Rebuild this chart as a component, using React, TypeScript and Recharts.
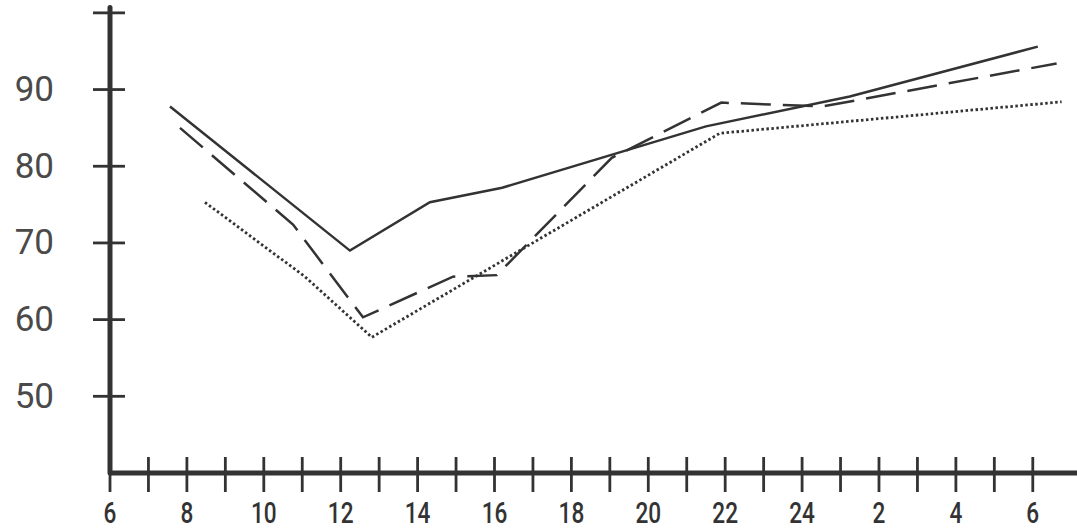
import React from 'react'
import { LineChart, Line, XAxis, YAxis } from 'recharts'

// hours of day (6 = 06:00, 30 = 06:00 next day)
const xTicks = [6, 7, 8, 9, 10, 11, 12, 13, 14, 15, 16, 17, 18, 19, 20, 21, 22, 23, 24, 25, 26, 27, 28, 29, 30]
const xLabels: { [key: number]: string } = {
  6: '6', 8: '8', 10: '10', 12: '12', 14: '14', 16: '16', 18: '18',
  20: '20', 22: '22', 24: '24', 26: '2', 28: '4', 30: '6',
}
const yTicks = [50, 60, 70, 80, 90, 100]
const yLabels: { [key: number]: string } = { 50: '50', 60: '60', 70: '70', 80: '80', 90: '90' }

const solidSeries = [
  { t: 7.56, v: 87.8 },
  { t: 12.24, v: 69.0 },
  { t: 14.32, v: 75.3 },
  { t: 16.2, v: 77.2 },
  { t: 21.5, v: 85.2 },
  { t: 25.24, v: 89.1 },
  { t: 30.13, v: 95.6 },
]

const dashedSeries = [
  { t: 7.82, v: 85.0 },
  { t: 10.76, v: 72.4 },
  { t: 12.58, v: 60.3 },
  { t: 14.92, v: 65.6 },
  { t: 16.06, v: 65.8 },
  { t: 19.05, v: 81.1 },
  { t: 21.9, v: 88.3 },
  { t: 24.54, v: 87.8 },
  { t: 30.62, v: 93.4 },
]

const dottedSeries = [
  { t: 8.47, v: 75.3 },
  { t: 11.07, v: 65.6 },
  { t: 12.81, v: 57.7 },
  { t: 21.86, v: 84.3 },
  { t: 30.75, v: 88.4 },
]

const ink = '#333'

const XTick = ({ x, y, payload }: any) => {
  const label = xLabels[payload.value]
  return (
    <g>
      <line x1={x} x2={x} y1={y - 16} y2={y + 19} stroke={ink} strokeWidth={2.8} />
      {label && (
        // condensed look: squeeze the glyphs horizontally
        <text
          transform={`translate(${x}, ${y + 50}) scale(0.78, 1)`}
          textAnchor="middle"
          fill={ink}
          fontSize={29}
          fontWeight={500}
          fontFamily="Roboto, sans-serif"
        >
          {label}
        </text>
      )}
    </g>
  )
}

const YTick = ({ x, y, payload }: any) => {
  const label = yLabels[payload.value]
  return (
    <g>
      <line x1={x - 17} x2={x + 15} y1={y} y2={y} stroke={ink} strokeWidth={2.8} />
      {label && (
        <text
          x={x - 56}
          y={y}
          textAnchor="end"
          dominantBaseline="central"
          fill="#4a4a4a"
          fontSize={35}
          fontFamily="Roboto, sans-serif"
        >
          {label}
        </text>
      )}
    </g>
  )
}

export default function App() {
  return (
    <div style={{ position: 'absolute', left: 0, top: 0, width: 1077, height: 529, background: '#fff' }}>
      <LineChart width={1077} height={529} margin={{ top: 7.5, right: 0, bottom: 0, left: 0 }}>
        <XAxis
          type="number"
          dataKey="t"
          domain={[6, 31.15]}
          ticks={xTicks}
          interval={0}
          allowDataOverflow
          height={56}
          tickSize={0}
          tickMargin={0}
          tickLine={false}
          axisLine={{ stroke: ink, strokeWidth: 5 }}
          tick={<XTick />}
        />
        <YAxis
          type="number"
          dataKey="v"
          domain={[40, 100.7]}
          ticks={yTicks}
          interval={0}
          allowDataOverflow
          width={110}
          tickSize={0}
          tickMargin={0}
          tickLine={false}
          axisLine={{ stroke: ink, strokeWidth: 5, strokeLinecap: 'round' }}
          tick={<YTick />}
        />
        <Line
          data={solidSeries}
          dataKey="v"
          type="linear"
          stroke={ink}
          strokeWidth={2.5}
          dot={false}
          isAnimationActive={false}
        />
        <Line
          data={dashedSeries}
          dataKey="v"
          type="linear"
          stroke={ink}
          strokeWidth={2.5}
          strokeDasharray="30 12"
          dot={false}
          isAnimationActive={false}
        />
        <Line
          data={dottedSeries}
          dataKey="v"
          type="linear"
          stroke={ink}
          strokeWidth={2.8}
          strokeDasharray="2.5 2.5"
          dot={false}
          isAnimationActive={false}
        />
      </LineChart>
    </div>
  )
}
